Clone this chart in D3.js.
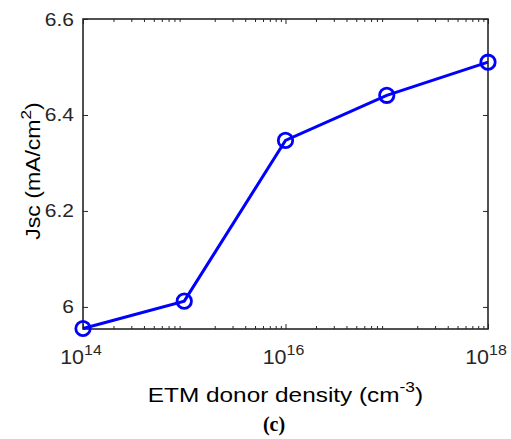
<!DOCTYPE html>
<html>
<head>
<meta charset="utf-8">
<script src="https://cdn.jsdelivr.net/npm/d3@7/dist/d3.min.js"></script>
<style>
  html, body { margin: 0; padding: 0; background: #fff; }
  svg { display: block; font-family: "Liberation Sans", Arial, sans-serif; }
</style>
</head>
<body>
<svg id="chart" width="511" height="439"></svg>
<script>
// ETM donor density (cm^-3) and short-circuit current density (mA/cm^2)
const donorDensity = [1e14, 1e15, 1e16, 1e17, 1e18];
const jsc = [5.955, 6.012, 6.347, 6.441, 6.510];
const xTickExponents = [14, 16, 18];
const yTicks = [6, 6.2, 6.4, 6.6];

const svg = d3.select("#chart");
const W = 511, H = 439;
const margin = { left: 83, right: 23, top: 19, bottom: 110 };
const x0 = margin.left, x1 = W - margin.right, y0 = margin.top, y1 = H - margin.bottom;

const x = d3.scaleLog().domain([1e14, 1e18]).range([x0, x1]);
const y = d3.scaleLinear().domain([5.954, 6.6]).range([y1, y0]);

const axisColor = "#262626";

// minor log ticks between decades
const minor = [];
for (let e = 14; e < 18; e++) for (let m = 2; m <= 9; m++) minor.push(m * Math.pow(10, e));
const major = xTickExponents.map(e => Math.pow(10, e));

const g = svg.append("g");
const axes = [
  g.append("g").attr("transform", `translate(0,${y1})`).call(d3.axisBottom(x).tickValues(major).tickSize(-5).tickFormat("")),
  g.append("g").attr("transform", `translate(0,${y1})`).call(d3.axisBottom(x).tickValues(minor).tickSize(-3).tickFormat("")),
  g.append("g").attr("transform", `translate(0,${y0})`).call(d3.axisTop(x).tickValues(major).tickSize(-5).tickFormat("")),
  g.append("g").attr("transform", `translate(0,${y0})`).call(d3.axisTop(x).tickValues(minor).tickSize(-3).tickFormat("")),
  g.append("g").attr("transform", `translate(${x0},0)`).call(d3.axisLeft(y).tickValues(yTicks).tickSize(-5).tickFormat("")),
  g.append("g").attr("transform", `translate(${x1},0)`).call(d3.axisRight(y).tickValues(yTicks).tickSize(-5).tickFormat(""))
];
axes.forEach(a => {
  a.select(".domain").remove();
  a.selectAll("line").attr("stroke", axisColor).attr("stroke-width", 1);
});

// box frame
g.append("rect").attr("x", x0).attr("y", y0).attr("width", x1 - x0).attr("height", y1 - y0)
  .attr("fill", "none").attr("stroke", axisColor).attr("stroke-width", 1.6);

// y tick labels
g.selectAll(".ylab").data(yTicks).join("text")
  .attr("class", "ylab")
  .attr("transform", d => `translate(${x0 - 9},${y(d) + 6.5}) scale(1.2,1)`)
  .attr("text-anchor", "end").attr("font-size", 17.5).attr("fill", axisColor)
  .text(d => d3.format("~g")(d));

// x tick labels: 10^n
xTickExponents.forEach(e => {
  const t = g.append("text")
    .attr("transform", `translate(${x(Math.pow(10, e)) - 2},${y1 + 35}) scale(1.1,1)`)
    .attr("text-anchor", "middle").attr("font-size", 19.5).attr("fill", axisColor);
  t.append("tspan").text("10");
  t.append("tspan").attr("dy", -9).attr("font-size", 14.5).text(e);
});

// x axis title
const xTitle = svg.append("text")
  .attr("transform", `translate(285.5,402) scale(1.16,1)`)
  .attr("text-anchor", "middle").attr("font-size", 21).attr("fill", "#000");
xTitle.append("tspan").text("ETM donor density (cm");
xTitle.append("tspan").attr("dy", -10).attr("font-size", 15).text("-3");
xTitle.append("tspan").attr("dy", 10).text(")");

// y axis title
const yTitle = svg.append("text")
  .attr("transform", `translate(39.5,171) rotate(-90) scale(1.18,1)`)
  .attr("text-anchor", "middle").attr("font-size", 19.5).attr("fill", "#000");
yTitle.append("tspan").text("Jsc (mA/cm");
yTitle.append("tspan").attr("dy", -9).attr("font-size", 14.5).text("2");
yTitle.append("tspan").attr("dy", 9).text(")");

// panel label
svg.append("text").attr("x", 274).attr("y", 431)
  .attr("text-anchor", "middle").attr("font-family", "'Liberation Serif', 'Times New Roman', serif")
  .attr("font-weight", "bold").attr("font-size", 20).attr("fill", "#000").text("(c)");

// data line and markers
const pts = donorDensity.map((d, i) => [d, jsc[i]]);
svg.append("path").datum(pts)
  .attr("d", d3.line().x(d => x(d[0])).y(d => y(d[1])))
  .attr("fill", "none").attr("stroke", "#0000ff").attr("stroke-width", 3);
svg.selectAll(".pt").data(pts).join("circle")
  .attr("class", "pt")
  .attr("cx", d => x(d[0])).attr("cy", d => y(d[1])).attr("r", 7.2)
  .attr("fill", "none").attr("stroke", "#0000ff").attr("stroke-width", 2.8);
</script>
</body>
</html>
